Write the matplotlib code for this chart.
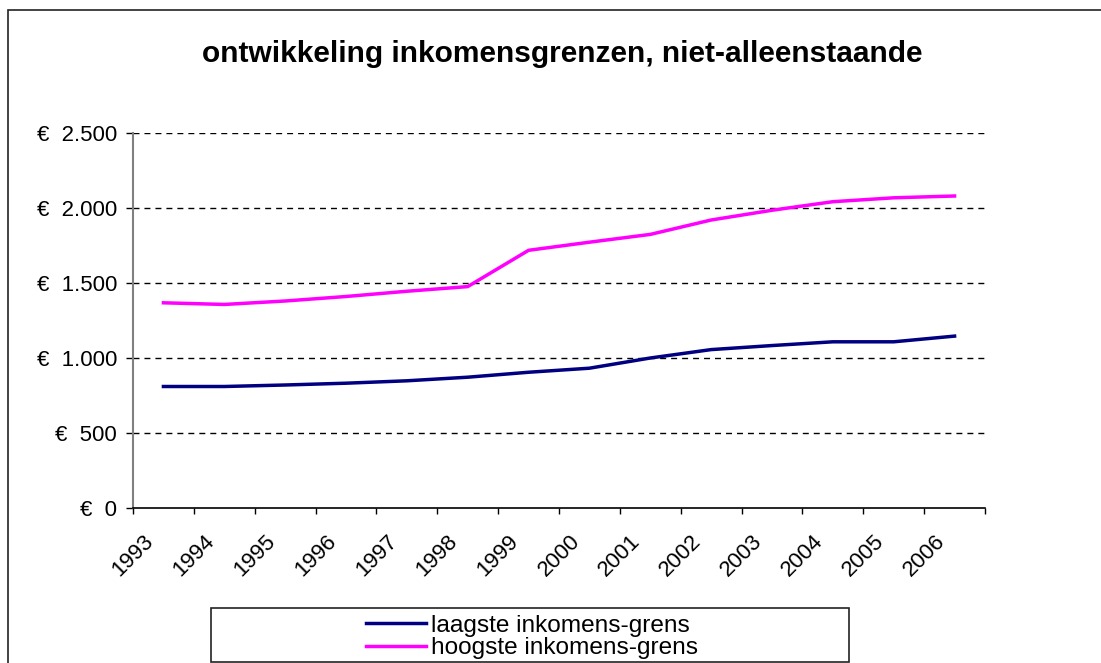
import numpy as np
import matplotlib
matplotlib.use('Agg')
import matplotlib.pyplot as plt
from matplotlib.patches import Rectangle

plt.rcParams['font.family'] = ['Liberation Sans', 'DejaVu Sans']

# data
years = ['1993', '1994', '1995', '1996', '1997', '1998', '1999',
         '2000', '2001', '2002', '2003', '2004', '2005', '2006']
laagste = [810, 810, 820, 832, 848, 872, 905, 932, 1000, 1056, 1083, 1108, 1108, 1146]
hoogste = [1368, 1357, 1380, 1410, 1445, 1476, 1718, 1772, 1824, 1920, 1985, 2042, 2068, 2080]
yticks = [0, 500, 1000, 1500, 2000, 2500]
ylabels = ['€  0', '€  500', '€  1.000', '€  1.500', '€  2.000', '€  2.500']

W, H = 1101, 663
fig = plt.figure(figsize=(W / 100, H / 100), dpi=100)

# outer chart border (left and top visible, rest runs off the image)
fig.add_artist(Rectangle((8 / W, -0.2), 1.2, 1 - 10 / H + 0.2,
                         transform=fig.transFigure, fill=False,
                         edgecolor='#222222', linewidth=1.2, clip_on=False))

ax = fig.add_axes([133 / W, (H - 508) / H, 852 / W, 375 / H])

x = np.arange(len(years))
ax.plot(x, laagste, color='#000080', linewidth=2.5, label='laagste inkomens-grens')
ax.plot(x, hoogste, color='#FF00FF', linewidth=2.5, label='hoogste inkomens-grens')

ax.set_xlim(-0.5, len(years) - 0.5)
ax.set_ylim(0, 2500)

# dashed horizontal gridlines
for v in yticks[1:]:
    ax.axhline(v, color='black', linewidth=1.0, linestyle=(0, (4.3, 3.6)), zorder=0)

ax.set_yticks(yticks)
ax.set_yticklabels(ylabels, fontsize=16)
ax.tick_params(axis='y', direction='out', length=5, width=1, color='black', pad=6.5)

# category labels sit at the category boundaries like in the original
bounds = np.arange(len(years) + 1) - 0.5
ax.set_xticks(bounds)
ax.set_xticklabels(years + [''], rotation=45, fontsize=16, ha='center')
ax.tick_params(axis='x', direction='out', length=4.3, width=1, color='black', pad=12)

for s in ['top', 'right']:
    ax.spines[s].set_visible(False)
ax.spines['left'].set_color('#808080')
ax.spines['left'].set_linewidth(1.5)
ax.spines['bottom'].set_color('black')
ax.spines['bottom'].set_linewidth(1.2)

fig.text(562 / W, 1 - 62 / H, 'ontwikkeling inkomensgrenzen, niet-alleenstaande',
         fontsize=21.5, fontweight='bold', ha='center', va='baseline')

# legend box
fig.add_artist(Rectangle((211 / W, 1 - 662 / H), (849 - 211) / W, 54 / H,
                         transform=fig.transFigure, fill=False,
                         edgecolor='#222222', linewidth=1.2))
fig.legend(loc='center', bbox_to_anchor=(532 / W, 1 - 637 / H), frameon=False,
           fontsize=17.6, handlelength=2.45, handletextpad=0.2, labelspacing=0.0,
           borderpad=0)

fig.savefig('out.png', dpi=100)
